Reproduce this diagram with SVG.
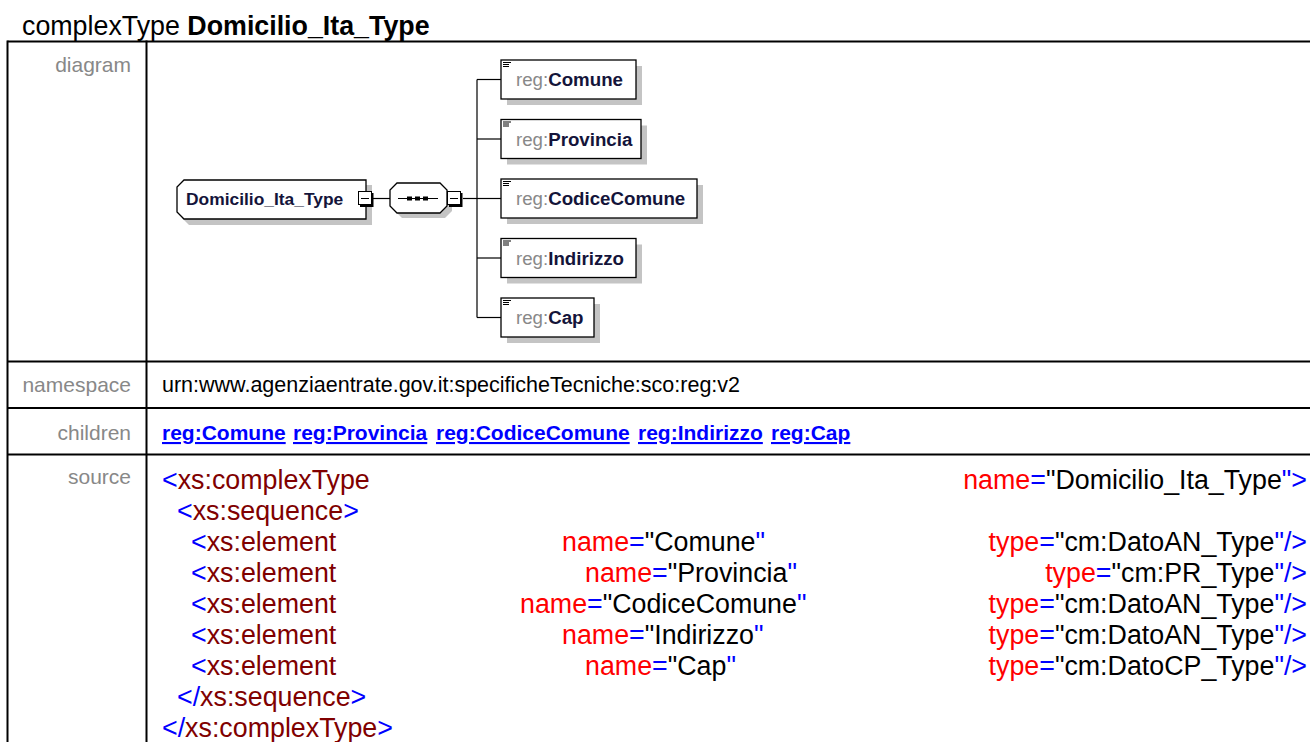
<svg xmlns="http://www.w3.org/2000/svg" width="1310" height="742" viewBox="0 0 1310 742">
<style>
text{font-family:"Liberation Sans",Arial,Helvetica,sans-serif}
.title{font-size:26.8px;fill:#000}
.lbl{font-size:21px;fill:#888;text-anchor:end}
.val{font-size:21.5px;fill:#000}
.lnk{font-size:21px;font-weight:bold;fill:#0000ff;text-decoration:underline}
.src{font-size:26.8px}
.b{fill:#0000ff}.e{fill:#800000}.a{fill:#ff0000}.v{fill:#000}
.grid{stroke:#000;stroke-width:2;fill:none}
.shadow{fill:#c4c4c4}
.box{fill:#fff;stroke:#000;stroke-width:1.3}
.conn{stroke:#000;stroke-width:1.2;fill:none}
.nt{font-size:18.7px;font-weight:bold;fill:#14143a}
.pre{font-weight:normal;fill:#888}
.mt{font-size:17.4px;font-weight:bold;fill:#14143a}
.icon{stroke:#000;stroke-width:1}
</style>
<defs>
<g id="minus">
<rect x="0.5" y="0.5" width="13" height="13" fill="#fff" stroke="#000" stroke-width="1"/>
<path d="M14.5 2 V15 H2" fill="none" stroke="#000" stroke-width="2"/>
<line x1="3" y1="7.5" x2="11" y2="7.5" stroke="#000" stroke-width="1"/>
</g>
<g id="icon">
<line x1="0" y1="0.5" x2="8" y2="0.5" class="icon"/>
<line x1="0" y1="2.5" x2="6" y2="2.5" class="icon"/>
<line x1="0" y1="4.5" x2="6" y2="4.5" class="icon"/>
</g>
</defs>
<rect width="1310" height="742" fill="#fff"/>
<text x="22" y="35" class="title">complexType <tspan font-weight="bold">Domicilio_Ita_Type</tspan></text>
<g id="table">
<line x1="7.5" y1="41.5" x2="1310" y2="41.5" class="grid"/>
<line x1="7.5" y1="361.5" x2="1310" y2="361.5" class="grid"/>
<line x1="7.5" y1="408" x2="1310" y2="408" class="grid"/>
<line x1="7.5" y1="454.5" x2="1310" y2="454.5" class="grid"/>
<line x1="7.5" y1="40.5" x2="7.5" y2="742" class="grid"/>
<line x1="146.5" y1="40.5" x2="146.5" y2="742" class="grid"/>
</g>
<text x="131" y="72" class="lbl">diagram</text>
<text x="131" y="392" class="lbl">namespace</text>
<text x="131" y="440" class="lbl">children</text>
<text x="131" y="484" class="lbl">source</text>
<text x="162" y="392" class="val">urn:www.agenziaentrate.gov.it:specificheTecniche:sco:reg:v2</text>
<g id="children-links">
<text x="162" y="440" class="lnk">reg:Comune</text>
<text x="293" y="440" class="lnk">reg:Provincia</text>
<text x="436" y="440" class="lnk">reg:CodiceComune</text>
<text x="638" y="440" class="lnk">reg:Indirizzo</text>
<text x="771" y="440" class="lnk">reg:Cap</text>
</g>
<g id="connectors">
<line x1="373" y1="198.5" x2="390" y2="198.5" class="conn"/>
<line x1="463" y1="198.5" x2="477" y2="198.5" class="conn"/>
<line x1="477" y1="79.5" x2="477" y2="317.5" class="conn"/>
<line x1="477" y1="79.5" x2="501" y2="79.5" class="conn"/>
<line x1="477" y1="139" x2="501" y2="139" class="conn"/>
<line x1="477" y1="198.5" x2="501" y2="198.5" class="conn"/>
<line x1="477" y1="258" x2="501" y2="258" class="conn"/>
<line x1="477" y1="317.5" x2="501" y2="317.5" class="conn"/>
</g>
<g id="node-main">
<path d="M189 185 H372 V225 H189 L182 218 V192 Z" class="shadow"/>
<path d="M184 180 H366 V219 H184 L177 212 V187 Z" class="box"/>
<text x="186" y="205" class="mt">Domicilio_Ita_Type</text>
<use href="#minus" x="358" y="191"/>
</g>
<g id="node-sequence">
<path d="M402 188 H445 L452 195 V211 L445 218 H402 L395 211 V195 Z" class="shadow"/>
<path d="M397 183 H440 L447 190 V206 L440 213 H397 L390 206 V190 Z" class="box"/>
<line x1="398" y1="198.5" x2="438" y2="198.5" stroke="#000" stroke-width="1"/>
<rect x="407" y="196.5" width="5" height="4" fill="#000"/>
<rect x="415" y="196.5" width="5" height="4" fill="#000"/>
<rect x="423" y="196.5" width="5" height="4" fill="#000"/>
<use href="#minus" x="447" y="191"/>
</g>
<g id="node-comune">
<rect x="507" y="66" width="135" height="39" class="shadow"/>
<rect x="501" y="60" width="135" height="39" class="box"/>
<use href="#icon" x="503" y="62"/>
<text x="516" y="86" class="nt"><tspan class="pre">reg:</tspan>Comune</text>
</g>
<g id="node-provincia">
<rect x="507" y="125.5" width="140" height="39" class="shadow"/>
<rect x="501" y="119.5" width="140" height="39" class="box"/>
<use href="#icon" x="503" y="121.5"/>
<text x="516" y="145.5" class="nt"><tspan class="pre">reg:</tspan>Provincia</text>
</g>
<g id="node-codicecomune">
<rect x="507" y="185" width="196" height="39" class="shadow"/>
<rect x="501" y="179" width="196" height="39" class="box"/>
<use href="#icon" x="503" y="181"/>
<text x="516" y="205" class="nt"><tspan class="pre">reg:</tspan>CodiceComune</text>
</g>
<g id="node-indirizzo">
<rect x="507" y="244.5" width="135" height="39" class="shadow"/>
<rect x="501" y="238.5" width="135" height="39" class="box"/>
<use href="#icon" x="503" y="240.5"/>
<text x="516" y="264.5" class="nt"><tspan class="pre">reg:</tspan>Indirizzo</text>
</g>
<g id="node-cap">
<rect x="507" y="304" width="93" height="39" class="shadow"/>
<rect x="501" y="298" width="93" height="39" class="box"/>
<use href="#icon" x="503" y="300"/>
<text x="516" y="324" class="nt"><tspan class="pre">reg:</tspan>Cap</text>
</g>
<g id="source" class="src">
<text x="162" y="489"><tspan class="b">&lt;</tspan><tspan class="e">xs:complexType</tspan></text>
<text x="1307" y="489" text-anchor="end"><tspan class="a">name</tspan><tspan class="b">=</tspan><tspan class="v">"Domicilio_Ita_Type</tspan><tspan class="b">"&gt;</tspan></text>
<text x="177" y="520"><tspan class="b">&lt;</tspan><tspan class="e">xs:sequence</tspan><tspan class="b">&gt;</tspan></text>
<text x="191" y="551"><tspan class="b">&lt;</tspan><tspan class="e">xs:element</tspan></text>
<text x="562" y="551"><tspan class="a">name</tspan><tspan class="b">=</tspan><tspan class="v">"Comune</tspan><tspan class="b">"</tspan></text>
<text x="1307" y="551" text-anchor="end"><tspan class="a">type</tspan><tspan class="b">=</tspan><tspan class="v">"cm:DatoAN_Type</tspan><tspan class="b">"/&gt;</tspan></text>
<text x="191" y="582"><tspan class="b">&lt;</tspan><tspan class="e">xs:element</tspan></text>
<text x="585" y="582"><tspan class="a">name</tspan><tspan class="b">=</tspan><tspan class="v">"Provincia</tspan><tspan class="b">"</tspan></text>
<text x="1307" y="582" text-anchor="end"><tspan class="a">type</tspan><tspan class="b">=</tspan><tspan class="v">"cm:PR_Type</tspan><tspan class="b">"/&gt;</tspan></text>
<text x="191" y="613"><tspan class="b">&lt;</tspan><tspan class="e">xs:element</tspan></text>
<text x="520" y="613"><tspan class="a">name</tspan><tspan class="b">=</tspan><tspan class="v">"CodiceComune</tspan><tspan class="b">"</tspan></text>
<text x="1307" y="613" text-anchor="end"><tspan class="a">type</tspan><tspan class="b">=</tspan><tspan class="v">"cm:DatoAN_Type</tspan><tspan class="b">"/&gt;</tspan></text>
<text x="191" y="644"><tspan class="b">&lt;</tspan><tspan class="e">xs:element</tspan></text>
<text x="562" y="644"><tspan class="a">name</tspan><tspan class="b">=</tspan><tspan class="v">"Indirizzo</tspan><tspan class="b">"</tspan></text>
<text x="1307" y="644" text-anchor="end"><tspan class="a">type</tspan><tspan class="b">=</tspan><tspan class="v">"cm:DatoAN_Type</tspan><tspan class="b">"/&gt;</tspan></text>
<text x="191" y="675"><tspan class="b">&lt;</tspan><tspan class="e">xs:element</tspan></text>
<text x="585" y="675"><tspan class="a">name</tspan><tspan class="b">=</tspan><tspan class="v">"Cap</tspan><tspan class="b">"</tspan></text>
<text x="1307" y="675" text-anchor="end"><tspan class="a">type</tspan><tspan class="b">=</tspan><tspan class="v">"cm:DatoCP_Type</tspan><tspan class="b">"/&gt;</tspan></text>
<text x="177" y="706"><tspan class="b">&lt;/</tspan><tspan class="e">xs:sequence</tspan><tspan class="b">&gt;</tspan></text>
<text x="162" y="737"><tspan class="b">&lt;/</tspan><tspan class="e">xs:complexType</tspan><tspan class="b">&gt;</tspan></text>
</g>
</svg>
